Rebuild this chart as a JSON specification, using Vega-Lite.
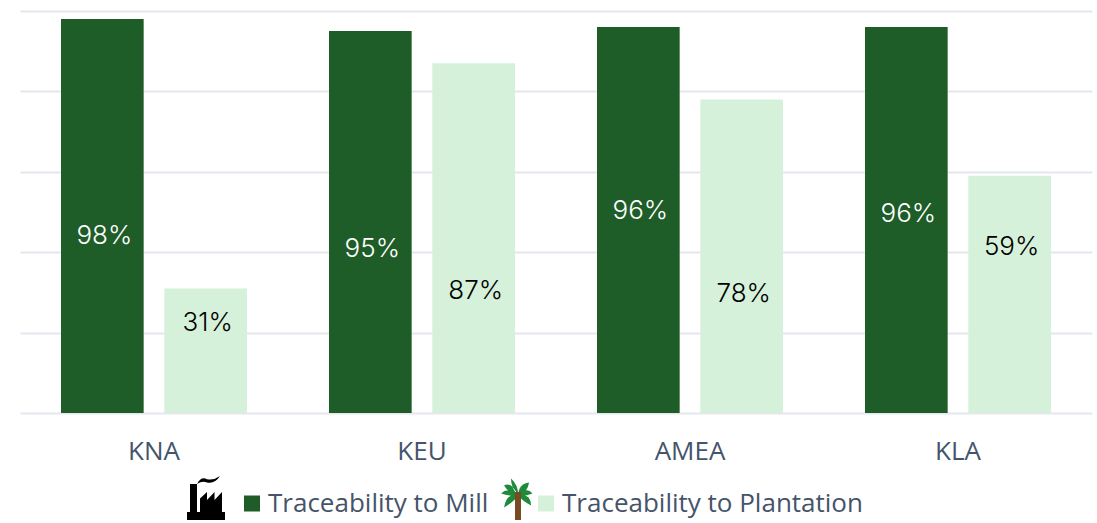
{"$schema":"https://vega.github.io/schema/vega-lite/v6.json","width":1071,"height":402,"autosize":{"type":"none"},"padding":{"left":20,"top":11,"right":6,"bottom":110},"background":"white",
"data":{"values":[
{"region":"KNA","series":"Traceability to Mill","share":98,"label":"98%","label_at":44},
{"region":"KNA","series":"Traceability to Plantation","share":31,"label":"31%","label_at":22.5},
{"region":"KEU","series":"Traceability to Mill","share":95,"label":"95%","label_at":40.75},
{"region":"KEU","series":"Traceability to Plantation","share":87,"label":"87%","label_at":30.25},
{"region":"AMEA","series":"Traceability to Mill","share":96,"label":"96%","label_at":50.25},
{"region":"AMEA","series":"Traceability to Plantation","share":78,"label":"78%","label_at":29.5},
{"region":"KLA","series":"Traceability to Mill","share":96,"label":"96%","label_at":49.5},
{"region":"KLA","series":"Traceability to Plantation","share":59,"label":"59%","label_at":41.25}
]},
"config":{"view":{"stroke":null}},
"encoding":{
"x":{"field":"region","type":"nominal","sort":["KNA","KEU","AMEA","KLA"],"title":null,"scale":{"range":[0,1072],"paddingInner":0.306,"paddingOuter":0.153},"axis":{"labelAngle":0,"ticks":false,"domain":false,"labelFont":"Open Sans","labelFontSize":26,"labelColor":"#44546a","labelPadding":38,"labelBaseline":"middle"}},
"xOffset":{"field":"series","type":"nominal","sort":["Traceability to Mill","Traceability to Plantation"],"scale":{"paddingInner":0.2}}
},
"layer":[
{"mark":{"type":"bar","clip":false},"encoding":{
"y":{"field":"share","type":"quantitative","title":null,"scale":{"domain":[0,100]},"axis":{"values":[0,20,40,60,80,100],"labels":false,"ticks":false,"domain":false,"gridColor":"#e4e7ef","gridWidth":2}},
"color":{"field":"series","type":"nominal","title":null,"scale":{"domain":["factory icon","Traceability to Mill","palm fronds","Traceability to Plantation"],"range":["#000000","#1e5c28","#1f8a3a","#d6f1da"]},
"legend":{"orient":"none","legendX":187,"legendY":476,"direction":"horizontal","columns":4,"columnPadding":0.01,"symbolSize":256,"symbolStrokeWidth":0,"symbolOpacity":1,"labelOffset":3,"labelFont":"Open Sans","labelFontSize":26,"labelColor":"#44546a","labelLimit":400,"padding":0,"labelExpr":"indexof(datum.label,'Traceability')<0?'':datum.label"}}
}},
{"mark":{"type":"point","filled":false,"size":0,"opacity":1},"encoding":{
"y":{"field":"share","type":"quantitative"},
"stroke":{"datum":"palm trunk","type":"nominal","scale":{"domain":["palm trunk"],"range":["#7a4a25"]},"legend":{"title":null,"orient":"none","legendX":485,"legendY":476,"symbolSize":256,"symbolType":"M0 -1L0 2.5","symbolStrokeWidth":6,"symbolOpacity":1,"labelFont":"Open Sans","labelFontSize":26,"labelExpr":"''","padding":0}}
}},
{"mark":{"type":"point","filled":true,"size":0,"opacity":1},"encoding":{
"y":{"field":"share","type":"quantitative"},
"color":{"field":"series","type":"nominal","title":null},
"shape":{"field":"series","type":"nominal","title":null,"scale":{"domain":["factory icon","Traceability to Mill","palm fronds","Traceability to Plantation"],"range":[
"M-4.125 1.5H0.625V2.5H-4.125Z M-3.75 -2H-2.875V1.5H-3.75Z M-2.5 1.5V-0.2L-1.625 -1V0L-0.685 -1V0L0.25 -1V1.5Z M-2.875 -2Q-2.375 -3 -1.625 -2.6Q-0.825 -2.4 0 -3Q-0.625 -2 -1.625 -2.2Q-2.275 -2.4 -2.875 -2Z M2.375 0Z",
"square",
"M2 -1Q1.09 -2 1.13 -3.125Q2.09 -2.2 2 -1Z M2 -1Q2.09 -2.5 3.38 -2.625Q3.19 -1.3 2 -1Z M2 -1Q3.09 -2.2 3.8 -1.25Q2.99 -0.9 2 -1Z M2 -1Q3.59 -1.3 3.63 0.25Q2.59 -0.3 2 -1Z M2 -1Q0.79 -2.2 -0.12 -1.25Q0.99 -0.9 2 -1Z M2 -1Q0.59 -1.4 0.25 0.5Q1.59 -0.3 2 -1Z M2 -1Q1.19 -2.8 0.25 -2.25Q0.89 -1.2 2 -1Z",
"square"]}}
}},
{"mark":{"type":"text","font":"Inter","fontWeight":300,"fontSize":26,"baseline":"middle","dx":2},"encoding":{
"y":{"field":"label_at","type":"quantitative"},
"text":{"field":"label"},
"color":{"condition":{"test":"datum.series==='Traceability to Mill'","value":"#ffffff"},"value":"#000000"}
}}
]}
